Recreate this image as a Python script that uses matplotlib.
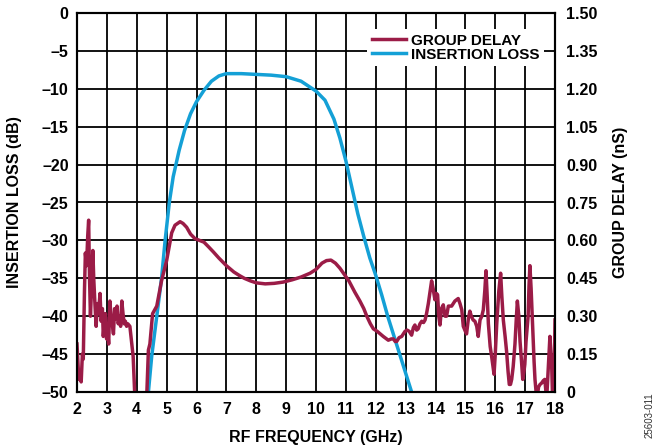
import matplotlib
matplotlib.use("Agg")
import matplotlib.pyplot as plt
from matplotlib.lines import Line2D

# Insertion loss (dB) vs RF frequency (GHz)
il_freq = [4.39, 4.5, 4.67, 4.83, 4.95, 5.09, 5.22, 5.42, 5.6, 5.8, 6.0, 6.25,
           6.5, 6.75, 7.0, 7.5, 8.0, 8.5, 9.0, 9.5, 10.0, 10.3, 10.6, 10.8, 11.0,
           11.2, 11.4, 11.6, 11.8, 12.0, 12.2, 12.4, 12.6, 12.8, 13.0, 13.2]
il_db = [-50, -45.3, -40, -35, -30, -25, -21.6, -18.1, -15.5, -13.3, -11.7, -10.2,
         -9.0, -8.3, -8.0, -8.0, -8.1, -8.2, -8.4, -9.0, -10.3, -11.5, -14.0,
         -16.5, -19.5, -23, -26.5, -29.5, -32.3, -34.6, -37.2, -40, -42.5, -45,
         -47.5, -50]

# Group delay (nS) vs RF frequency (GHz)
gd_freq = [2.00, 2.03, 2.06, 2.10, 2.14, 2.18, 2.21, 2.25, 2.28, 2.32, 2.36, 2.39,
           2.42, 2.45, 2.49, 2.53, 2.56, 2.60, 2.64, 2.68, 2.72, 2.77, 2.81, 2.85,
           2.88, 2.92, 2.95, 2.99, 3.03, 3.06, 3.10, 3.14, 3.18, 3.22, 3.26, 3.30,
           3.34, 3.38, 3.42, 3.46, 3.50, 3.54, 3.58, 3.62, 3.66, 3.70, 3.77, 3.88,
           3.94, 4.00, 4.15, 4.33, 4.39, 4.44, 4.53, 4.67, 4.83, 5.00, 5.17, 5.28,
           5.45, 5.55, 5.67, 5.80, 5.95, 6.10,
           6.25, 6.40, 6.56, 6.75, 7.00, 7.25, 7.45, 7.60, 7.80, 8.00, 8.30, 8.60,
           8.90, 9.20, 9.50, 9.80, 10.0, 10.2, 10.35, 10.5, 10.65, 10.8, 10.95,
           11.1, 11.3, 11.47, 11.6, 11.7, 11.82, 11.92, 12.05, 12.25, 12.42, 12.52,
           12.59, 12.65, 12.70, 12.78, 12.87, 12.98, 13.05, 13.12, 13.20, 13.26,
           13.31, 13.37, 13.42, 13.48, 13.54, 13.60, 13.65, 13.70, 13.76, 13.82,
           13.87, 13.92, 13.98, 14.03, 14.07, 14.11, 14.15, 14.20, 14.26, 14.32,
           14.37, 14.43, 14.54, 14.65, 14.76, 14.82, 14.88, 14.93, 15.00, 15.04,
           15.10, 15.15, 15.20, 15.26, 15.32, 15.38, 15.43, 15.49, 15.55, 15.60,
           15.65, 15.69, 15.73, 15.77, 15.83, 15.88, 15.96, 16.00, 16.05, 16.12,
           16.18, 16.22, 16.27, 16.33, 16.38, 16.43, 16.47, 16.51, 16.55, 16.60,
           16.66, 16.70, 16.74, 16.79, 16.83, 16.88, 16.92, 16.96, 16.99, 17.03,
           17.10, 17.13, 17.16, 17.20, 17.27, 17.30, 17.33, 17.39, 17.45, 17.50,
           17.55, 17.61, 17.66, 17.72, 17.77, 17.80, 17.83, 17.89, 17.92, 17.95,
           17.98, 18.00]
gd_ns = [0.19, 0.12, 0.05, 0.08, 0.04, 0.15, 0.13, 0.40, 0.55, 0.50, 0.62, 0.68,
         0.45, 0.30, 0.42, 0.56, 0.45, 0.35, 0.26, 0.35, 0.31, 0.39, 0.28, 0.33,
         0.22, 0.28, 0.31, 0.21, 0.24, 0.19, 0.36, 0.30, 0.27, 0.23, 0.33, 0.29,
         0.34, 0.27, 0.30, 0.26, 0.36, 0.31, 0.27, 0.28, 0.26, 0.27, 0.26, 0.14,
         -0.03, -0.05, -0.05, -0.03, 0.166, 0.19, 0.31, 0.34, 0.44, 0.52, 0.63, 0.66,
         0.674, 0.667, 0.652, 0.625, 0.607, 0.60,
         0.593, 0.575, 0.555, 0.53, 0.50, 0.475, 0.46, 0.45, 0.44, 0.432, 0.428, 0.43,
         0.435, 0.444, 0.455, 0.47, 0.485, 0.51, 0.52, 0.522, 0.51, 0.49, 0.465,
         0.44, 0.395, 0.36, 0.33, 0.30, 0.27, 0.25, 0.24, 0.22, 0.205, 0.21,
         0.21, 0.20, 0.20, 0.215, 0.22, 0.24, 0.245, 0.24, 0.225, 0.255,
         0.265, 0.245, 0.25, 0.27, 0.28, 0.275, 0.285, 0.31, 0.35, 0.40,
         0.44, 0.41, 0.365, 0.39, 0.385, 0.30, 0.265, 0.33, 0.345, 0.30,
         0.30, 0.34, 0.34, 0.36, 0.37, 0.35, 0.325, 0.26, 0.24, 0.23,
         0.29, 0.32, 0.30, 0.285, 0.28, 0.26, 0.22, 0.285, 0.30, 0.325,
         0.40, 0.48, 0.38, 0.27, 0.18, 0.14, 0.07, 0.15, 0.27, 0.40,
         0.47, 0.38, 0.285, 0.22, 0.16, 0.08, 0.03, 0.03, 0.05, 0.10,
         0.19, 0.28, 0.36, 0.30, 0.20, 0.12, 0.05, 0.08, 0.11, 0.20,
         0.30, 0.42, 0.50, 0.41, 0.20, 0.12, 0.05, -0.03, 0.02, 0.03,
         0.035, 0.045, 0.05, -0.03, 0.08, 0.15, 0.22, 0.10, -0.03, 0.05,
         0.12, 0.285]

x_ticks = list(range(2, 19))
il_ticks = [0, -5, -10, -15, -20, -25, -30, -35, -40, -45, -50]
il_tick_labels = ["0", "\u20135", "\u201310", "\u201315", "\u201320", "\u201325",
                  "\u201330", "\u201335", "\u201340", "\u201345", "\u201350"]
gd_ticks = [0, 0.15, 0.30, 0.45, 0.60, 0.75, 0.90, 1.05, 1.20, 1.35, 1.50]
gd_tick_labels = ["0", "0.15", "0.30", "0.45", "0.60", "0.75", "0.90", "1.05",
                  "1.20", "1.35", "1.50"]

RED = "#9b1c47"
BLUE = "#14a0d6"
FS = 11.5

plt.rcParams["font.family"] = ["Liberation Sans", "DejaVu Sans"]
plt.rcParams["font.weight"] = "bold"

fig = plt.figure(figsize=(6.6, 4.48), dpi=100)
ax = fig.add_axes([77 / 660, 1 - 392 / 448, 478 / 660, 379 / 448])
ax2 = ax.twinx()

ax.plot(il_freq, il_db, color=BLUE, lw=2.5, solid_capstyle="butt")
ax2.plot(gd_freq, gd_ns, color=RED, lw=2.5, solid_joinstyle="round")

ax.set_xlim(2, 18)
ax.set_ylim(-50, 0)
ax2.set_ylim(0, 1.5)

ax.set_xticks(x_ticks)
ax.set_xticklabels([str(t) for t in x_ticks])
ax.set_yticks(il_ticks)
ax.set_yticklabels(il_tick_labels)
ax2.set_yticks(gd_ticks)
ax2.set_yticklabels(gd_tick_labels)

ax.grid(True, color="black", lw=1.3)
for a in (ax, ax2):
    a.tick_params(length=0, labelsize=FS)
    for s in a.spines.values():
        s.set_linewidth(1.5)
        s.set_color("black")
ax.tick_params(axis="x", pad=7)
ax.tick_params(axis="y", pad=6)
ax2.tick_params(axis="y", pad=8)

ax.set_xlabel("RF FREQUENCY (GHz)", fontsize=FS, fontweight="bold")
ax.xaxis.set_label_coords(0.5, -0.10)
ax.set_ylabel("INSERTION LOSS (dB)", fontsize=FS, fontweight="bold")
ax.yaxis.set_label_coords(-0.115, 0.5)
ax2.set_ylabel("GROUP DELAY (nS)", fontsize=FS, fontweight="bold")
ax2.yaxis.set_label_coords(1.121, 0.5)

handles = [Line2D([], [], color=RED, lw=2.5),
           Line2D([], [], color=BLUE, lw=2.5)]
leg = ax2.legend(handles, ["GROUP DELAY", "INSERTION LOSS"], loc="upper right",
                 bbox_to_anchor=(0.977, 0.958), fontsize=11, frameon=True,
                 fancybox=False, framealpha=1, edgecolor="none",
                 handlelength=2.2, handletextpad=0.35, labelspacing=0.0,
                 borderpad=0.3, borderaxespad=0)
leg.get_frame().set_linewidth(0)

fig.text(650 / 660, 1 - 415 / 448, "25603-011", rotation=90, fontsize=7,
         fontweight="normal", ha="center", va="center", color="#333333")

fig.savefig("out.png", dpi=100)
